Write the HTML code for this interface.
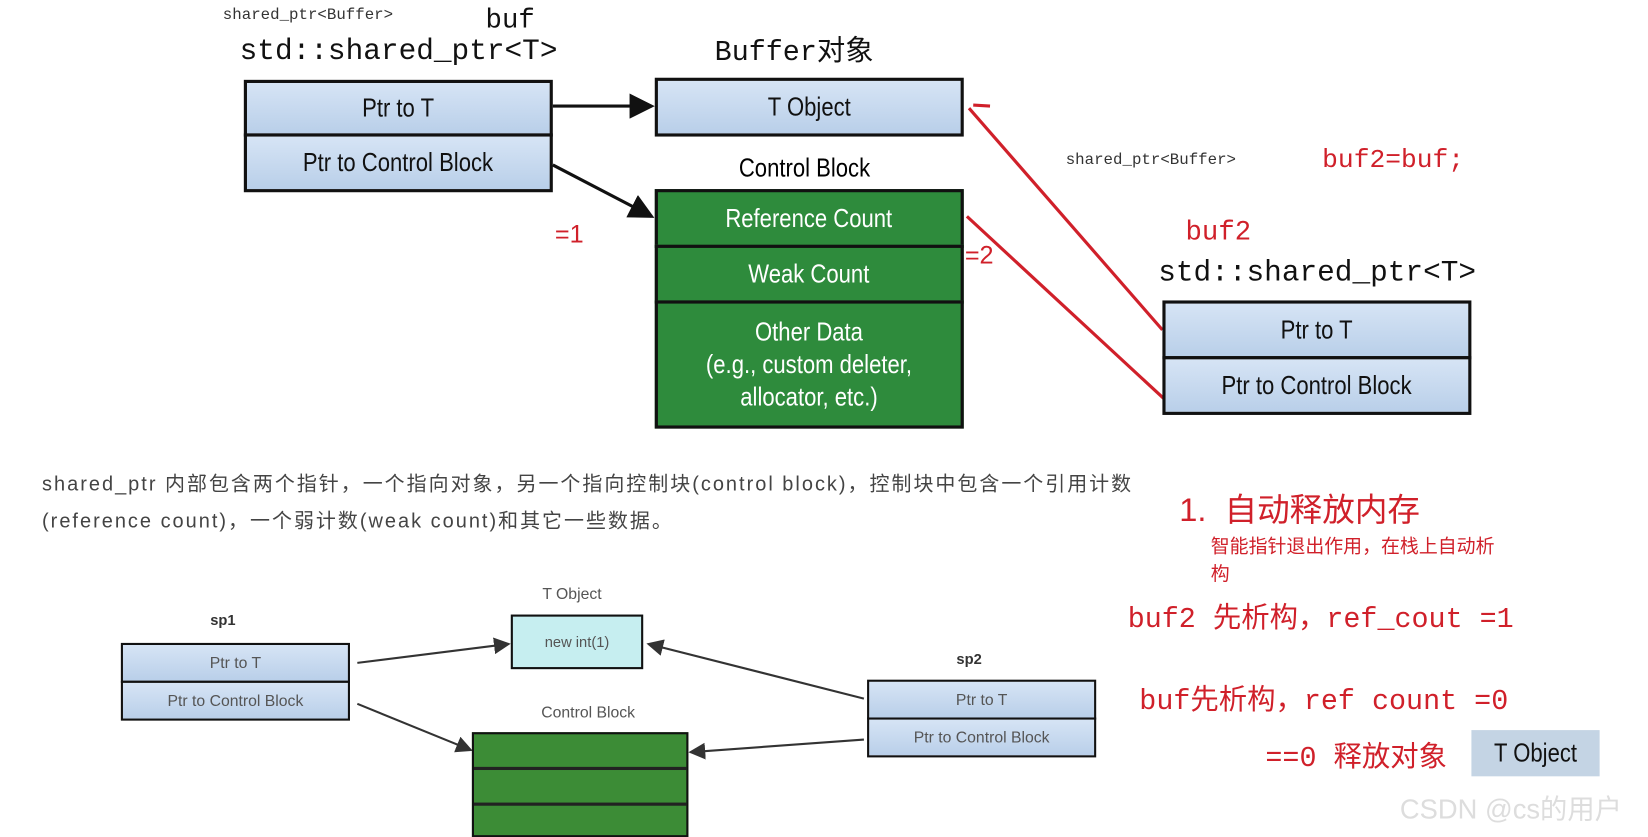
<!DOCTYPE html>
<html><head><meta charset="utf-8"><style>
html,body{margin:0;padding:0;background:#fff;overflow:hidden;width:1648px;height:832px}
#c{position:absolute;left:0;top:0;width:1568px;height:792px;transform:scale(1.051,1.0505);transform-origin:0 0;font-family:"Liberation Sans","Noto Sans CJK SC",sans-serif}
.a{position:absolute;white-space:nowrap}
.bx{position:absolute;box-sizing:border-box;border:3px solid #111;display:flex;align-items:center;justify-content:center;font-family:"Liberation Sans Narrow","Liberation Sans",sans-serif;font-size:25px;color:#111}
.bx span{display:inline-block;transform:scaleX(0.84)}
.blue{background:linear-gradient(#d6e4f5,#b9cfe9)}
.green{background:#2e8b3c;color:#fff}
.mono{font-family:"Liberation Mono","Noto Sans CJK SC",monospace}
.red{color:#d0202a}
</style></head><body><div id="c">
<svg class="a" style="left:0;top:0" width="1568" height="792">
<defs><marker id="k" markerWidth="8" markerHeight="8" refX="7" refY="4" orient="auto"><path d="M0,0L8,4L0,8z" fill="#111"/></marker>
<marker id="g" markerWidth="8" markerHeight="8" refX="7" refY="4" orient="auto"><path d="M0,0L8,4L0,8z" fill="#333"/></marker></defs>
<line x1="526" y1="101" x2="620" y2="101" stroke="#111" stroke-width="3" marker-end="url(#k)"/>
<line x1="526" y1="157" x2="620" y2="206" stroke="#111" stroke-width="3" marker-end="url(#k)"/>
<line x1="1106" y1="314" x2="922" y2="103" stroke="#d0202a" stroke-width="3"/>
<line x1="926" y1="100" x2="942" y2="101" stroke="#d0202a" stroke-width="3"/>
<line x1="1108" y1="380" x2="920" y2="206" stroke="#d0202a" stroke-width="3"/>
<line x1="693" y1="228" x2="858" y2="228" stroke="#d0202a" stroke-width="3"/>
<line x1="340" y1="631" x2="484" y2="613" stroke="#333" stroke-width="2" marker-end="url(#g)"/>
<line x1="340" y1="670" x2="448" y2="714" stroke="#333" stroke-width="2" marker-end="url(#g)"/>
<line x1="822" y1="665" x2="617" y2="613" stroke="#333" stroke-width="2" marker-end="url(#g)"/>
<line x1="822" y1="704" x2="657" y2="716" stroke="#333" stroke-width="2" marker-end="url(#g)"/>
</svg>
<div class="a mono" style="left:212px;top:6px;font-size:15px;color:#333">shared_ptr&lt;Buffer&gt;</div>
<div class="a mono" style="left:462px;top:4px;font-size:26px;color:#111">buf</div>
<div class="a mono" style="left:228px;top:34px;font-size:28px;color:#111">std::shared_ptr&lt;T&gt;</div>
<div class="bx blue" style="left:232px;top:76px;width:294px;height:54px"><span>Ptr to T</span></div>
<div class="bx blue" style="left:232px;top:127px;width:294px;height:56px"><span>Ptr to Control Block</span></div>
<div class="a mono" style="left:680px;top:26px;font-size:27px;color:#111">Buffer对象</div>
<div class="bx blue" style="left:623px;top:74px;width:294px;height:56px"><span>T Object</span></div>
<div class="a" style="left:703px;top:146px;font-size:25px;transform:scaleX(0.84);transform-origin:0 0">Control Block</div>
<div class="bx green" style="left:623px;top:180px;width:294px;height:56px"><span>Reference Count</span></div>
<div class="bx green" style="left:623px;top:233px;width:294px;height:56px"><span>Weak Count</span></div>
<div class="bx green" style="left:623px;top:286px;width:294px;height:122px;text-align:center;line-height:31px"><span>Other Data<br>(e.g., custom deleter,<br>allocator, etc.)</span></div>
<div class="a red" style="left:528px;top:210px;font-size:24px">=1</div>
<div class="a red" style="left:918px;top:230px;font-size:24px">=2</div>
<div class="a mono" style="left:1014px;top:144px;font-size:15px;color:#333">shared_ptr&lt;Buffer&gt;</div>
<div class="a mono red" style="left:1258px;top:138px;font-size:25px">buf2=buf;</div>
<div class="a mono red" style="left:1128px;top:206px;font-size:26px">buf2</div>
<div class="a mono" style="left:1102px;top:245px;font-size:28px;color:#111">std::shared_ptr&lt;T&gt;</div>
<div class="bx blue" style="left:1106px;top:286px;width:294px;height:56px"><span>Ptr to T</span></div>
<div class="bx blue" style="left:1106px;top:339px;width:294px;height:56px"><span>Ptr to Control Block</span></div>
<div class="a" style="left:40px;top:446px;font-size:19px;color:#444;letter-spacing:1.9px">shared_ptr 内部包含两个指针，一个指向对象，另一个指向控制块(control block)，控制块中包含一个引用计数</div>
<div class="a" style="left:40px;top:481px;font-size:19px;color:#444;letter-spacing:1.9px">(reference count)，一个弱计数(weak count)和其它一些数据。</div>
<div class="a red" style="left:1122px;top:460px;font-size:31px">1.&nbsp; 自动释放内存</div>
<div class="a red" style="left:1152px;top:506px;font-size:18px">智能指针退出作用，在栈上自动析</div>
<div class="a red" style="left:1152px;top:532px;font-size:18px">构</div>
<div class="a red mono" style="left:1073px;top:566px;font-size:27px">buf2 先析构，ref_cout =1</div>
<div class="a red mono" style="left:1084px;top:644px;font-size:27px">buf先析构，ref count =0</div>
<div class="a red mono" style="left:1204px;top:698px;font-size:27px">==0 释放对象</div>
<div class="bx blue" style="left:1400px;top:695px;width:122px;height:44px;border:none;background:#c4d4e4"><span>T Object</span></div>
<div class="a" style="left:200px;top:582px;font-size:14px;font-weight:bold;color:#333">sp1</div>
<div class="bx blue" style="left:115px;top:612px;width:218px;height:38px;border-width:2px;font-size:15px;color:#555">Ptr to T</div>
<div class="bx blue" style="left:115px;top:648px;width:218px;height:38px;border-width:2px;font-size:15px;color:#555">Ptr to Control Block</div>
<div class="a" style="left:516px;top:557px;font-size:15px;color:#555">T Object</div>
<div class="bx" style="left:486px;top:585px;width:126px;height:52px;border-width:2px;background:#c6eef0;font-size:14px;color:#555">new int(1)</div>
<div class="a" style="left:515px;top:670px;font-size:15px;color:#555">Control Block</div>
<div class="bx" style="left:449px;top:697px;width:206px;height:100px;border-width:2px;background:#3c8c36;align-items:flex-start"></div>
<div class="a" style="left:451px;top:730px;width:202px;height:3px;background:#222"></div>
<div class="a" style="left:451px;top:764px;width:202px;height:3px;background:#222"></div>
<div class="a" style="left:910px;top:619px;font-size:14px;font-weight:bold;color:#333">sp2</div>
<div class="bx blue" style="left:825px;top:647px;width:218px;height:38px;border-width:2px;font-size:15px;color:#555">Ptr to T</div>
<div class="bx blue" style="left:825px;top:683px;width:218px;height:38px;border-width:2px;font-size:15px;color:#555">Ptr to Control Block</div>
<div class="a" style="left:1332px;top:750px;font-size:26px;color:#ddd">CSDN @cs的用户</div>
</div></body></html>
